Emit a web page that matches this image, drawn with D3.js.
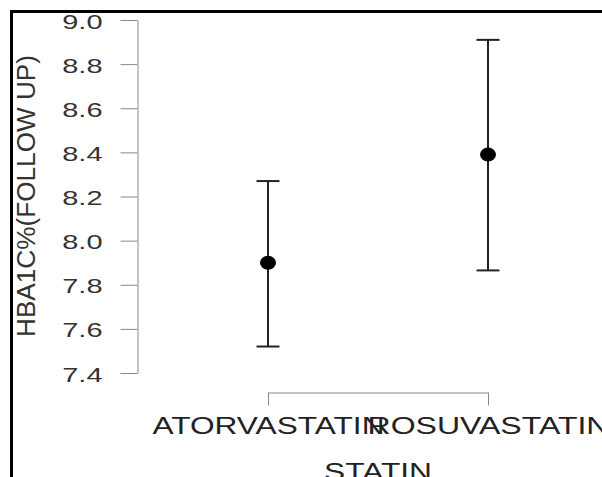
<!DOCTYPE html>
<html>
<head>
<meta charset="utf-8">
<script src="https://cdn.jsdelivr.net/npm/d3@7"></script>
<style>
  body { margin: 0; background: #fff; }
  svg { display: block; font-family: "Liberation Sans", Arial, sans-serif; }
</style>
</head>
<body>
<script>
const categories = ["ATORVASTATIN", "ROSUVASTATIN"];
const means = [7.90, 8.39];
const lower = [7.52, 7.865];
const upper = [8.27, 8.91];
const yTicks = [7.4, 7.6, 7.8, 8.0, 8.2, 8.4, 8.6, 8.8, 9.0];

const w = 602;
const h = 477;

const svg = d3.select("body")
  .append("svg")
  .attr("width", w)
  .attr("height", h);

// frame (only top and left edges are visible in the crop)
svg.append("rect")
  .attr("x", 11.5)
  .attr("y", 11.5)
  .attr("width", w)
  .attr("height", h)
  .attr("fill", "none")
  .attr("stroke", "#000")
  .attr("stroke-width", 3);

// Scales
const xScale = d3.scalePoint()
  .domain(categories)
  .range([268, 488]);

const yScale = d3.scaleLinear()
  .domain([7.4, 9.0])
  .range([373, 20]);

// Y axis
const yAxis = d3.axisLeft(yScale)
  .tickValues(yTicks)
  .tickFormat(d3.format(".1f"))
  .tickSize(17)
  .tickSizeOuter(0);

const gy = svg.append("g")
  .attr("transform", "translate(137.5, 0)")
  .call(yAxis);

gy.select(".domain").attr("stroke", "#888");
gy.selectAll(".tick line").attr("stroke", "#888");
gy.selectAll(".tick text")
  .attr("font-size", 20)
  .attr("fill", "#333")
  .attr("x", -35 / 1.45)
  .attr("dy", "0.4em")
  .attr("transform", "scale(1.45,1)");

// X axis
const xAxis = d3.axisBottom(xScale)
  .tickSize(13)
  .tickSizeOuter(0);

const gx = svg.append("g")
  .attr("transform", "translate(0, 392.5)")
  .call(xAxis);

gx.select(".domain").attr("stroke", "#888");
gx.selectAll(".tick line").attr("stroke", "#888");
gx.selectAll(".tick text")
  .attr("font-size", 23)
  .attr("fill", "#222")
  .attr("y", 41)
  .attr("dy", 0)
  .attr("textLength", (d) => (d === "ATORVASTATIN" ? 232 : 242))
  .attr("lengthAdjust", "spacingAndGlyphs");

// Axis titles
svg.append("text")
  .attr("x", 378)
  .attr("y", 480)
  .attr("text-anchor", "middle")
  .attr("font-size", 23)
  .attr("fill", "#222")
  .attr("textLength", 108)
  .attr("lengthAdjust", "spacingAndGlyphs")
  .text("STATIN");

svg.append("text")
  .attr("transform", "translate(35, 196) rotate(-90)")
  .attr("text-anchor", "middle")
  .attr("font-size", 26)
  .attr("fill", "#333")
  .attr("textLength", 282)
  .attr("lengthAdjust", "spacingAndGlyphs")
  .text("HBA1C%(FOLLOW UP)");

// Error bars
const bars = svg.append("g")
  .attr("stroke", "#222")
  .attr("stroke-width", 2);

bars.selectAll(".whisker")
  .data(categories)
  .enter()
  .append("line")
  .attr("class", "whisker")
  .attr("x1", (d) => xScale(d))
  .attr("x2", (d) => xScale(d))
  .attr("y1", (d, i) => yScale(lower[i]))
  .attr("y2", (d, i) => yScale(upper[i]));

bars.selectAll(".cap-top")
  .data(categories)
  .enter()
  .append("line")
  .attr("class", "cap-top")
  .attr("x1", (d) => xScale(d) - 11.5)
  .attr("x2", (d) => xScale(d) + 11.5)
  .attr("y1", (d, i) => yScale(upper[i]))
  .attr("y2", (d, i) => yScale(upper[i]));

bars.selectAll(".cap-bottom")
  .data(categories)
  .enter()
  .append("line")
  .attr("class", "cap-bottom")
  .attr("x1", (d) => xScale(d) - 11.5)
  .attr("x2", (d) => xScale(d) + 11.5)
  .attr("y1", (d, i) => yScale(lower[i]))
  .attr("y2", (d, i) => yScale(lower[i]));

// Means
svg.selectAll(".mean")
  .data(categories)
  .enter()
  .append("ellipse")
  .attr("class", "mean")
  .attr("cx", (d) => xScale(d))
  .attr("cy", (d, i) => yScale(means[i]))
  .attr("rx", 8)
  .attr("ry", 7)
  .attr("fill", "#000");
</script>
</body>
</html>
